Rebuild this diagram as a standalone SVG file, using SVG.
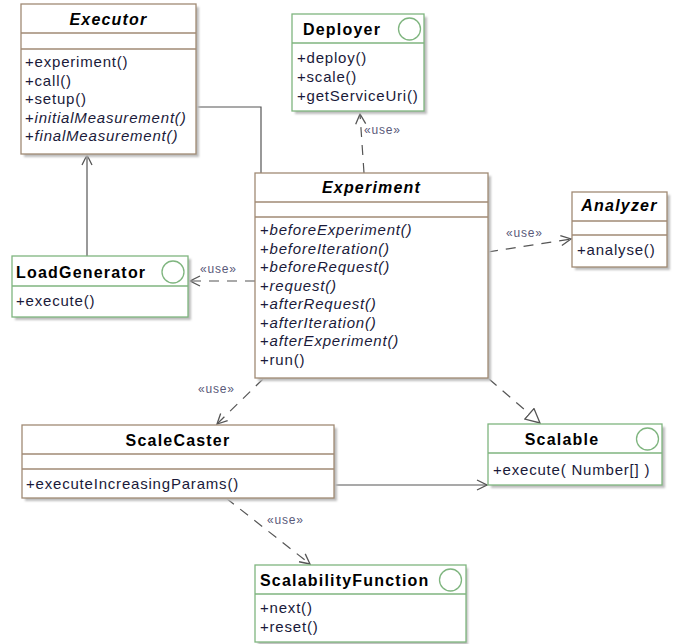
<svg xmlns="http://www.w3.org/2000/svg" width="681" height="644" viewBox="0 0 681 644">
<style>
.box{fill:#fff;stroke-width:1.3}
.cls{stroke:#a08a74}
.itf{stroke:#7fb57f}
.shd{fill:#bdbdbd;filter:url(#blur)}
.sep{stroke-width:1.3}
.ttl{font-family:"Liberation Sans",Arial,sans-serif;font-size:16px;font-weight:bold;letter-spacing:1.2px;fill:#000}
.ti{font-style:italic}
.m{font-family:"Liberation Sans",Arial,sans-serif;font-size:15px;letter-spacing:0.8px;fill:#1a1a3a}
.mi{font-style:italic}
.circ{fill:none;stroke:#7fb57f;stroke-width:1.3}
.ln{fill:none;stroke:#555;stroke-width:1.2}
.dash{stroke-dasharray:10 8}
.use{font-family:"Liberation Sans",Arial,sans-serif;font-size:12px;letter-spacing:0.8px;fill:#5a5a7a}
</style>
<defs>
<filter id="blur" x="-10%" y="-10%" width="120%" height="120%"><feGaussianBlur stdDeviation="1.2"/></filter>
<marker id="open" viewBox="0 0 12 12" refX="11" refY="6" markerWidth="12" markerHeight="12" markerUnits="userSpaceOnUse" orient="auto">
<path d="M1,1 L11,6 L1,11" fill="none" stroke="#555" stroke-width="1.3"/>
</marker>
<marker id="tri" viewBox="0 0 16 16" refX="15" refY="8" markerWidth="16" markerHeight="16" markerUnits="userSpaceOnUse" orient="auto">
<path d="M1,1 L15,8 L1,15 Z" fill="#fff" stroke="#555" stroke-width="1.3"/>
</marker>
</defs>

<g id="connectors">
<polyline class="ln" points="196,107 261,107 261,173"/>
<line class="ln" x1="87" y1="256" x2="87" y2="155" marker-end="url(#open)"/>
<line class="ln dash" x1="364" y1="173" x2="360" y2="114" marker-end="url(#open)"/>
<text class="use" x="364" y="134">«use»</text>
<line class="ln dash" x1="488" y1="252" x2="571" y2="239" marker-end="url(#open)"/>
<text class="use" x="506" y="237">«use»</text>
<line class="ln dash" x1="255" y1="281" x2="190" y2="281" marker-end="url(#open)"/>
<text class="use" x="200" y="273">«use»</text>
<line class="ln dash" x1="263" y1="379" x2="217" y2="424" marker-end="url(#open)"/>
<text class="use" x="198" y="393">«use»</text>
<line class="ln dash" x1="489" y1="379" x2="540" y2="423" marker-end="url(#tri)"/>
<line class="ln" x1="334" y1="485" x2="487" y2="485" marker-end="url(#open)"/>
<line class="ln dash" x1="226" y1="498" x2="310" y2="564" marker-end="url(#open)"/>
<text class="use" x="267" y="524">«use»</text>
</g>

<g id="Executor">
<rect class="shd" x="24" y="7" width="175" height="150"/>
<rect class="box cls" x="21" y="4" width="175" height="150"/>
<line class="sep cls" x1="21" y1="33" x2="196" y2="33"/>
<line class="sep cls" x1="21" y1="49" x2="196" y2="49"/>
<text class="ttl ti" x="108.5" y="25" text-anchor="middle">Executor</text>
<text class="m" x="25" y="67">+experiment()</text>
<text class="m" x="25" y="85.5">+call()</text>
<text class="m" x="25" y="104">+setup()</text>
<text class="m" x="25" y="122.5">+<tspan class="mi">initialMeasurement()</tspan></text>
<text class="m" x="25" y="141">+<tspan class="mi">finalMeasurement()</tspan></text>
</g>

<g id="Deployer">
<rect class="shd" x="295" y="17" width="132" height="97"/>
<rect class="box itf" x="292" y="14" width="132" height="97"/>
<line class="sep itf" x1="292" y1="43" x2="424" y2="43"/>
<circle class="circ" cx="409.5" cy="29" r="11"/>
<text class="ttl" x="303" y="35">Deployer</text>
<text class="m" x="297" y="63">+deploy()</text>
<text class="m" x="297" y="82">+scale()</text>
<text class="m" x="297" y="101">+getServiceUri()</text>
</g>

<g id="Experiment">
<rect class="shd" x="258" y="176" width="233" height="205"/>
<rect class="box cls" x="255" y="173" width="233" height="205"/>
<line class="sep cls" x1="255" y1="202" x2="488" y2="202"/>
<line class="sep cls" x1="255" y1="217" x2="488" y2="217"/>
<text class="ttl ti" x="371.5" y="193" text-anchor="middle">Experiment</text>
<text class="m" x="260" y="235">+<tspan class="mi">beforeExperiment()</tspan></text>
<text class="m" x="260" y="253.5">+<tspan class="mi">beforeIteration()</tspan></text>
<text class="m" x="260" y="272">+<tspan class="mi">beforeRequest()</tspan></text>
<text class="m" x="260" y="290.5">+<tspan class="mi">request()</tspan></text>
<text class="m" x="260" y="309">+<tspan class="mi">afterRequest()</tspan></text>
<text class="m" x="260" y="327.5">+<tspan class="mi">afterIteration()</tspan></text>
<text class="m" x="260" y="346">+<tspan class="mi">afterExperiment()</tspan></text>
<text class="m" x="260" y="364.5">+run()</text>
</g>

<g id="Analyzer">
<rect class="shd" x="575" y="195" width="95" height="75"/>
<rect class="box cls" x="572" y="192" width="95" height="75"/>
<line class="sep cls" x1="572" y1="221" x2="667" y2="221"/>
<line class="sep cls" x1="572" y1="235" x2="667" y2="235"/>
<text class="ttl ti" x="619.5" y="211" text-anchor="middle">Analyzer</text>
<text class="m" x="577" y="255">+analyse()</text>
</g>

<g id="LoadGenerator">
<rect class="shd" x="15" y="259" width="176" height="61"/>
<rect class="box itf" x="12" y="256" width="176" height="61"/>
<line class="sep itf" x1="12" y1="286" x2="188" y2="286"/>
<circle class="circ" cx="173" cy="272" r="11"/>
<text class="ttl" x="16" y="278">LoadGenerator</text>
<text class="m" x="16" y="306">+execute()</text>
</g>

<g id="ScaleCaster">
<rect class="shd" x="25" y="428" width="312" height="73"/>
<rect class="box cls" x="22" y="425" width="312" height="73"/>
<line class="sep cls" x1="22" y1="454" x2="334" y2="454"/>
<line class="sep cls" x1="22" y1="469" x2="334" y2="469"/>
<text class="ttl" x="178" y="446" text-anchor="middle">ScaleCaster</text>
<text class="m" x="26" y="489">+executeIncreasingParams()</text>
</g>

<g id="Scalable">
<rect class="shd" x="491" y="427" width="174" height="61"/>
<rect class="box itf" x="488" y="424" width="174" height="61"/>
<line class="sep itf" x1="488" y1="453" x2="662" y2="453"/>
<circle class="circ" cx="647.5" cy="439" r="11"/>
<text class="ttl" x="562" y="445" text-anchor="middle">Scalable</text>
<text class="m" x="493" y="475">+execute( Number[] )</text>
</g>

<g id="ScalabilityFunction">
<rect class="shd" x="258" y="568" width="210" height="77"/>
<rect class="box itf" x="255" y="565" width="211" height="77"/>
<line class="sep itf" x1="255" y1="594" x2="466" y2="594"/>
<circle class="circ" cx="450.5" cy="580" r="11"/>
<text class="ttl" x="260" y="586">ScalabilityFunction</text>
<text class="m" x="260" y="613">+next()</text>
<text class="m" x="260" y="632">+reset()</text>
</g>
</svg>
